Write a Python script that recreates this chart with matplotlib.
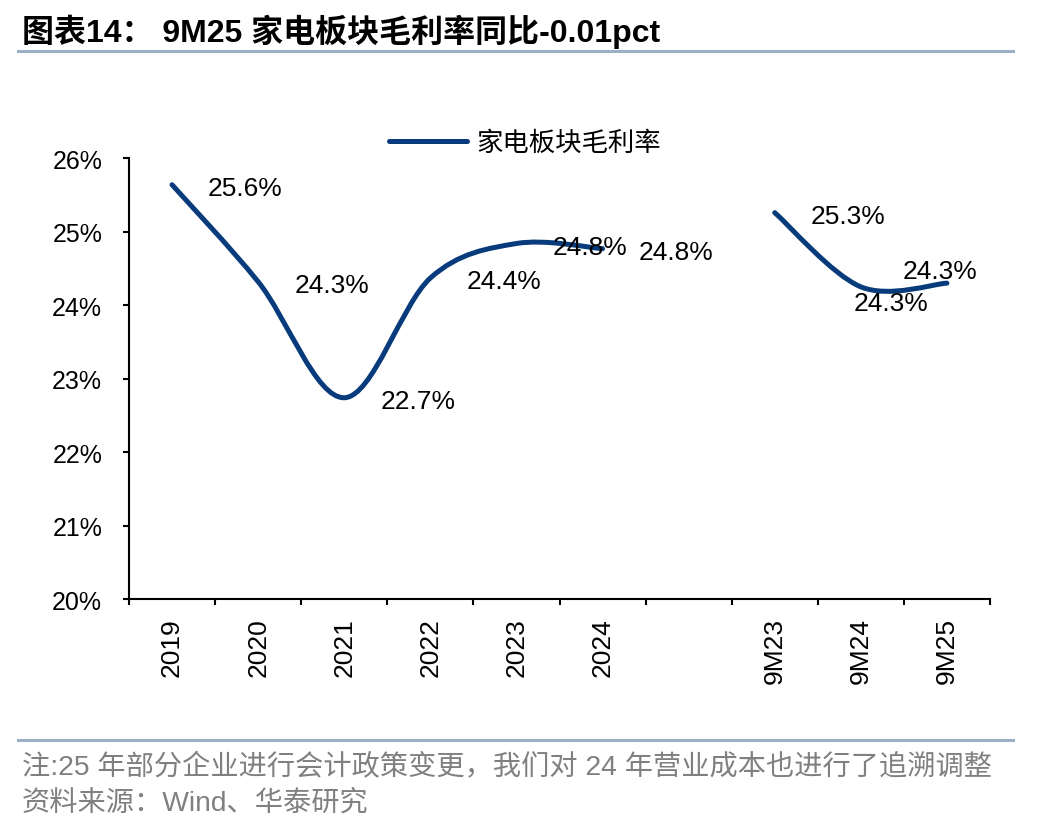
import numpy as np
import matplotlib
matplotlib.use('Agg')
import matplotlib.pyplot as plt
from matplotlib.path import Path
from matplotlib.patches import PathPatch
from matplotlib.lines import Line2D

plt.rcParams['font.family'] = ['Liberation Sans', 'Noto Sans CJK SC', 'DejaVu Sans']

# data
categories = ['2019', '2020', '2021', '2022', '2023', '2024', '', '9M23', '9M24', '9M25']
annual_values = [25.64, 24.32, 22.74, 24.37, 24.84, 24.77]
annual_labels = ['25.6%', '24.3%', '22.7%', '24.4%', '24.8%', '24.8%']
ytd_values = [25.26, 24.25, 24.30]
ytd_labels = ['25.3%', '24.3%', '24.3%']
series_name = '家电板块毛利率'

LINE_COLOR = '#073B7B'
RULE_COLOR = '#9BB0C6'
W, H = 1048, 828


def smooth_path(xs, ys):
    # excel style smoothed line (catmull-rom bezier)
    pts = np.column_stack([xs, ys]).astype(float)
    n = len(pts)
    verts = [pts[0]]
    codes = [Path.MOVETO]
    for i in range(n - 1):
        p0 = pts[i - 1] if i > 0 else pts[i]
        p1 = pts[i]
        p2 = pts[i + 1]
        p3 = pts[i + 2] if i + 2 < n else pts[i + 1]
        verts += [p1 + (p2 - p0) / 6, p2 - (p3 - p1) / 6, p2]
        codes += [Path.CURVE4] * 3
    return Path(verts, codes)


fig = plt.figure(figsize=(W / 100, H / 100), dpi=100)
ax = fig.add_axes([129 / W, 1 - 600 / H, (990 - 129) / W, (600 - 159.3) / H])

annual_x = list(range(len(annual_values)))
ytd_x = [categories.index(c) for c in ['9M23', '9M24', '9M25']]

for xs, ys in [(annual_x, annual_values), (ytd_x, ytd_values)]:
    patch = PathPatch(smooth_path(xs, ys), fill=False, edgecolor=LINE_COLOR,
                      lw=3.6, capstyle='round', joinstyle='round')
    ax.add_patch(patch)

# data labels (pixel offsets from the point)
for x, y, lab in zip(annual_x, annual_values, annual_labels):
    ax.annotate(lab, (x, y), xytext=(36, -3), textcoords='offset pixels',
                ha='left', va='center', fontsize=19)
ytd_offsets = [(36, -3, 'left'), (30, -16, 'center'), (-7, 12, 'center')]
for x, y, lab, (dx, dy, ha) in zip(ytd_x, ytd_values, ytd_labels, ytd_offsets):
    ax.annotate(lab, (x, y), xytext=(dx, dy), textcoords='offset pixels',
                ha=ha, va='center', fontsize=19)

ax.set_xlim(-0.5, len(categories) - 0.5)
ax.set_ylim(20, 26)
ax.set_yticks(range(20, 27))
ax.set_yticklabels(['%d%%' % v for v in range(20, 27)], fontsize=18)

ax.set_xticks(np.arange(-0.5, len(categories), 1))
ax.set_xticklabels([])
ax.set_xticks(range(len(categories)), minor=True)
ax.set_xticklabels(categories, minor=True, rotation=90, fontsize=19, va='top', ha='center')

ax.tick_params(axis='y', direction='out', length=4.3, width=1.5, pad=15)
ax.tick_params(axis='x', which='major', direction='out', length=4.3, width=1.5)
ax.tick_params(axis='x', which='minor', length=0, pad=13)

for side in ['top', 'right']:
    ax.spines[side].set_visible(False)
for side in ['left', 'bottom']:
    ax.spines[side].set_linewidth(1.5)

handle = Line2D([], [], color=LINE_COLOR, lw=3.6, solid_capstyle='round')
fig.legend([handle], [series_name], loc='center', bbox_to_anchor=(525 / W, 1 - 144 / H),
           frameon=False, fontsize=19, handlelength=2.95, handletextpad=0.35, borderpad=0)

# title and rules
fig.text(22 / W, 1 - 32 / H, '图表14： 9M25 家电板块毛利率同比-0.01pct',
         fontsize=23, fontweight='bold', ha='left', va='center')
fig.add_artist(Line2D([18 / W, 1013 / W], [1 - 52 / H] * 2, transform=fig.transFigure,
                      color=RULE_COLOR, lw=2.2))
fig.add_artist(Line2D([18 / W, 1013 / W], [1 - 741 / H] * 2, transform=fig.transFigure,
                      color=RULE_COLOR, lw=2.2))

fig.text(22 / W, 1 - 768 / H, '注:25 年部分企业进行会计政策变更，我们对 24 年营业成本也进行了追溯调整',
         fontsize=20.3, color='#808080', ha='left', va='center')
fig.text(22 / W, 1 - 803 / H, '资料来源：Wind、华泰研究',
         fontsize=20.3, color='#808080', ha='left', va='center')

fig.savefig('out.png', dpi=100)
